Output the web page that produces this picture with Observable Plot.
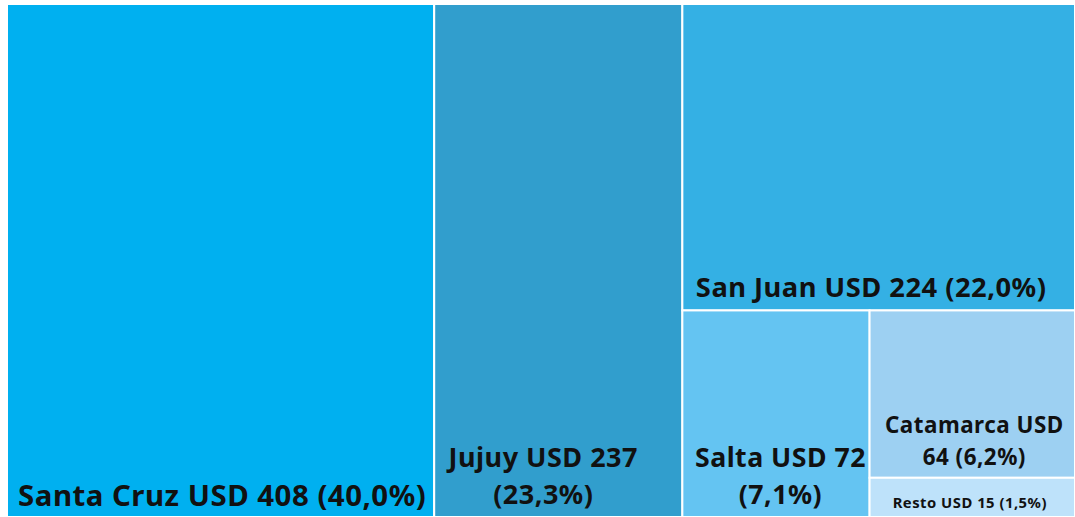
<!DOCTYPE html>
<html>
<head>
<meta charset="utf-8">
<script src="https://cdn.jsdelivr.net/npm/d3@7"></script>
<script src="https://cdn.jsdelivr.net/npm/@observablehq/plot@0.6"></script>
<style>
  html, body { margin: 0; padding: 0; background: #ffffff; }
  #chart svg { display: block; }
  #chart text { letter-spacing: 0.5px; }
</style>
</head>
<body>
<div id="chart"></div>
<script>
// Data
const provinces = ["Santa Cruz", "Jujuy", "San Juan", "Salta", "Catamarca", "Resto"];
const valuesUSD = [408, 237, 224, 72, 64, 15];
const shares = ["40,0%", "23,3%", "22,0%", "7,1%", "6,2%", "1,5%"];
const colors = ["#00b0f0", "#319ecd", "#34b0e4", "#64c4f2", "#9dd0f2", "#bee2fa"];

// Label styling (not data)
const labelStyle = {
  "Santa Cruz": {size: 29.4, dy: -12, dx: 1, lh: 1.3},
  "Jujuy": {size: 27, dy: -14, dx: -15.5, lh: 1.36},
  "San Juan": {size: 27.3, dy: -14, dx: -8, lh: 1.3},
  "Salta": {size: 26.7, dy: -14, dx: 4, lh: 1.36},
  "Catamarca": {size: 22.4, dy: -13, dx: 1.5, lh: 1.43},
  "Resto": {size: 14.8, dy: -10, dx: -3, lh: 1.2}
};

const rows = provinces.map((p, i) => ({name: p, value: valuesUSD[i], share: shares[i], color: colors[i]}));
const byName = Object.fromEntries(rows.map(r => [r.name, r]));

// Nested hierarchy reproducing the slice/dice structure
const tree = {children: [
  byName["Santa Cruz"], byName["Jujuy"],
  {children: [byName["San Juan"], {children: [byName["Salta"], {children: [byName["Catamarca"], byName["Resto"]]}]}]}
]};

const root = d3.hierarchy(tree).sum(d => d.value || 0);
d3.treemap().tile(d3.treemapSliceDice).size([1, 1]).round(false)(root);
const cells = root.leaves().map(l => ({...l.data, x0: l.x0, x1: l.x1, y0: l.y0, y1: l.y1}));

function labelText(d) {
  if (d.name === "Jujuy" || d.name === "Salta") return `${d.name} USD ${d.value}\n(${d.share})`;
  if (d.name === "Catamarca") return `${d.name} USD\n${d.value} (${d.share})`;
  return `${d.name} USD ${d.value} (${d.share})`;
}

const W = 1075, H = 517;
const marks = [
  Plot.rect(cells, {x1: "x0", x2: "x1", y1: "y0", y2: "y1", fill: d => d.color, stroke: "#ffffff", strokeWidth: 2})
];
for (const c of cells) {
  const s = labelStyle[c.name];
  marks.push(Plot.text([c], {
    x: d => (d.x0 + d.x1) / 2,
    y: "y1",
    text: labelText,
    dx: s.dx, dy: s.dy,
    fontSize: s.size,
    fontWeight: 700,
    lineHeight: s.lh,
    lineAnchor: "bottom",
    textAnchor: "middle",
    fill: "#111111"
  }));
}

const chart = Plot.plot({
  width: W, height: H,
  marginLeft: 7, marginTop: 4, marginRight: 0, marginBottom: 0,
  x: {domain: [0, 1], axis: null},
  y: {domain: [0, 1], reverse: true, axis: null},
  style: {fontFamily: "'Noto Sans', sans-serif", background: "#ffffff"},
  marks
});
document.getElementById("chart").appendChild(chart);
</script>
</body>
</html>
